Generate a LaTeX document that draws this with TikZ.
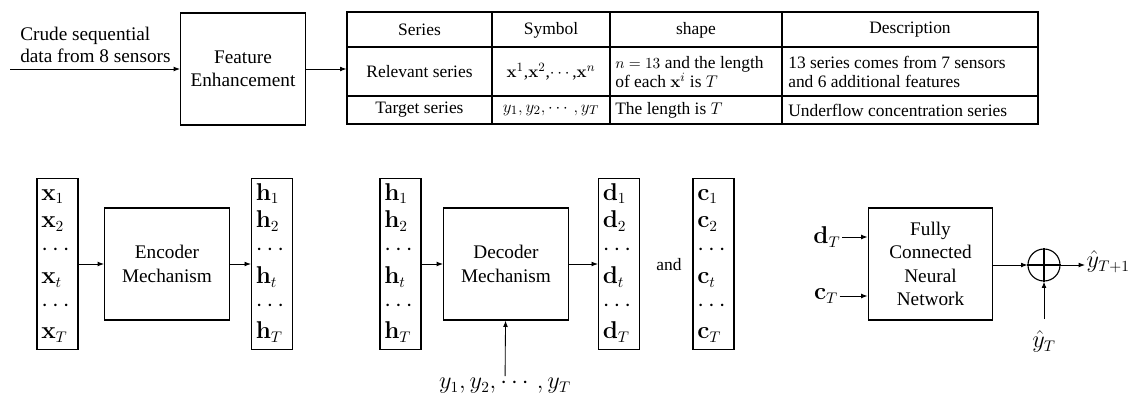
\documentclass[tikz,border=0pt]{standalone}
\usepackage{amsmath}
\usepackage[no-math]{fontspec}
\setmainfont{Liberation Serif}
\usetikzlibrary{positioning,arrows.meta,fit}

\begin{document}
\begin{tikzpicture}[x=0.025cm, y=-0.025cm,
  blk/.style={draw, line width=0.8pt, align=center, minimum width=3.12cm,
              minimum height=2.8cm, inner sep=2pt, font=\fontsize{13.7}{16.5}\selectfont},
  vec/.style={draw, line width=0.8pt, align=left, minimum width=1.025cm,
              minimum height=4.225cm, inner sep=2pt, font=\fontsize{16}{19.7}\selectfont},
  cell/.style={font=\fontsize{12.4}{14}\selectfont, inner sep=0pt},
  lcell/.style={cell, anchor=west, align=left},
  lab/.style={font=\fontsize{16}{18}\selectfont, inner sep=1pt},
  fwd/.style={-{Latex[length=1.6mm, width=1.2mm]}, line width=0.6pt},
  grid/.style={line width=0.8pt},
]
\useasboundingbox (0,0) rectangle (1133,396);

% ---------------- feature stage ----------------
\coordinate (src) at (10,69);
\node[anchor=west, align=left, inner sep=0pt, font=\fontsize{13.7}{16}\selectfont]
  (crude) at (20,45) {Crude sequential\\data from 8 sensors};
\node[blk] (fe) at (243,69) {Feature\\Enhancement};
\node[draw, grid, inner sep=0pt, fit={(347,12) (1038,124)}] (tab) {};

\draw[fwd] (src) -- (fe.west);
\draw[fwd] (fe.east) -- (fe.east -| tab.west);

% ---------------- table ----------------
\draw[grid] (347,47) -- (1038,47) (347,96) -- (1038,96);
\draw[grid] (492,12) -- (492,124) (610,12) -- (610,124) (782,12) -- (782,124);

\node[cell]  (hs) at (419.5,30) {Series};
\node[cell]  (hy) at (551,30)   {Symbol};
\node[cell]  (hl) at (696,30)   {shape};
\node[cell]  (hd) at (910,30)   {Description};
\node[cell]  (rs) at (419.5,72) {Relevant series};
\node[cell]  (ry) at (551,72)   {$\mathbf{x}^1$,$\mathbf{x}^2$,$\cdots$,$\mathbf{x}^n$};
\node[lcell] (rl) at (615,72)   {{\fontsize{10.5}{12}\selectfont$n=13$} and the length\\of each $\mathbf{x}^i$ is $T$};
\node[lcell] (rd) at (788,72)   {13 series comes from 7 sensors\\and 6 additional features};
\node[cell]  (ts) at (419.5,110) {Target series};
\node[cell]  (ty) at (551,110)   {$y_1,y_2,\cdots,y_T$};
\node[lcell] (tl) at (615,110)   {The length is $T$};
\node[lcell] (td) at (788,110)   {Underflow concentration series};

% ---------------- encoder ----------------
\node[vec] (xv) at (57.5,264)
  {\strut$\mathbf{x}_1$\\$\mathbf{x}_2$\\$\cdots$\\$\mathbf{x}_t$\\$\cdots$\\$\mathbf{x}_T$\strut};
\node[blk] (enc) at (167,264) {Encoder\\Mechanism};
\node[vec] (hv) at (272,264)
  {\strut$\mathbf{h}_1$\\$\mathbf{h}_2$\\$\cdots$\\$\mathbf{h}_t$\\$\cdots$\\$\mathbf{h}_T$\strut};

\draw[fwd] (xv) -- (enc);
\draw[fwd] (enc) -- (hv);

% ---------------- decoder ----------------
\node[vec] (hin) at (400.5,264)
  {\strut$\mathbf{h}_1$\\$\mathbf{h}_2$\\$\cdots$\\$\mathbf{h}_t$\\$\cdots$\\$\mathbf{h}_T$\strut};
\node[blk] (dec) at (506,264) {Decoder\\Mechanism};
\node[vec] (dv) at (619,264)
  {\strut$\mathbf{d}_1$\\$\mathbf{d}_2$\\$\cdots$\\$\mathbf{d}_t$\\$\cdots$\\$\mathbf{d}_T$\strut};
\node[cell] (and) at (669,265) {and};
\node[vec] (cv) at (713.5,264)
  {\strut$\mathbf{c}_1$\\$\mathbf{c}_2$\\$\cdots$\\$\mathbf{c}_t$\\$\cdots$\\$\mathbf{c}_T$\strut};
\node[lab, anchor=north] (ys) at (505,376) {$y_1,y_2,\cdots,y_T$};

\draw[fwd] (hin) -- (dec);
\draw[fwd] (dec) -- (dv);
\draw[fwd] (ys) -- (dec);

% ---------------- output layer ----------------
\node[blk] (fc) at (930.5,264) {Fully\\Connected\\Neural\\Network};
\node[lab] (dT) at (827,237) {$\mathbf{d}_T$};
\node[lab] (cT) at (826,296) {$\mathbf{c}_T$};
\node[draw, circle, line width=0.8pt, minimum size=0.8cm, inner sep=0pt] (sum) at (1044,265) {};
\draw[line width=0.8pt] (sum.north) -- (sum.south) (sum.west) -- (sum.east);
\node[lab, anchor=west] (yn) at (1085,262) {$\hat{y}_{T+1}$};
\node[lab, anchor=north] (yt) at (1044,329) {$\hat{y}_T$};

\draw[fwd] (dT.east) -- (dT.east -| fc.west);
\draw[fwd] (cT.east) -- (cT.east -| fc.west);
\draw[fwd] (fc.east |- sum) -- (sum.west);
\draw[fwd] (sum.east) -- (sum.east -| yn.west);
\draw[fwd] ([yshift=2.5mm]yt.north) -- (sum.south);

\end{tikzpicture}
\end{document}
